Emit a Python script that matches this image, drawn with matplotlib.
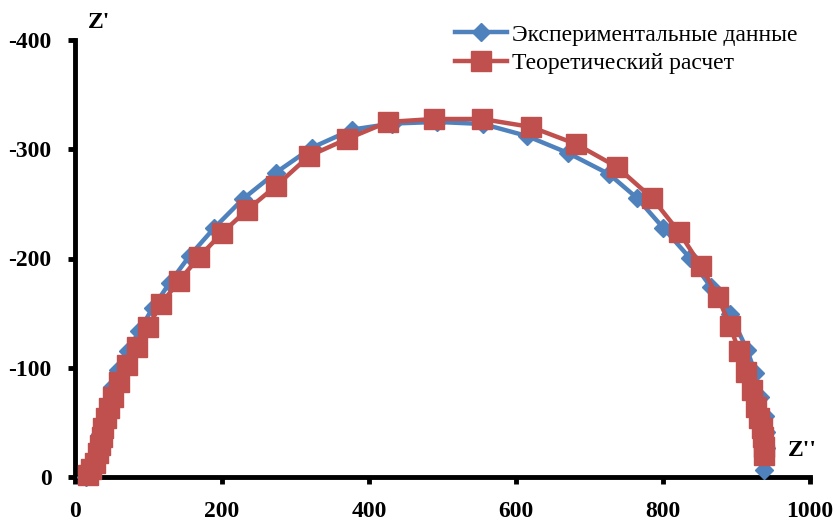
import numpy as np
import matplotlib
matplotlib.use("Agg")
import matplotlib.pyplot as plt

plt.rcParams['font.family'] = ['Liberation Serif', 'DejaVu Serif']
plt.rcParams['axes.unicode_minus'] = False

# experimental data (Z'' , Z')
exp_x = [14.5, 18.5, 23.0, 28.0, 31.5, 34.5, 37.5, 40.5, 44.5, 50.5, 58.5, 72.0, 87.5,
         106.0, 129.0, 156.0, 189.5, 228.5, 273.0, 322.4, 376.9, 431.3, 492.5, 555.1,
         615.0, 670.7, 726.5, 764.6, 800.5, 836.5, 865.0, 891.5, 914.5, 925.5, 932.5,
         938.5, 940.5, 940.0, 939.0, 937.4]
exp_y = [0, -5.5, -12.5, -21.0, -30.0, -39.0, -48.0, -57.5, -67.5, -82.0, -98.0, -115.0,
         -134.0, -155.0, -178.0, -202.5, -228.0, -254.5, -278.5, -301.5, -318.0, -323.5,
         -325.0, -323.1, -312.1, -296.6, -277.3, -255.4, -227.9, -200.5, -173.9, -149.2,
         -116.2, -95.2, -73.2, -55.8, -41.2, -26.5, -15.6, -6.4]

# theoretical calculation
th_x = [17.7, 21.8, 27.2, 31.3, 34.0, 36.7, 38.1, 42.2, 46.3, 51.7, 59.9, 70.7, 84.4,
        99.3, 117.0, 141.5, 168.7, 200.0, 234.0, 273.5, 318.4, 370.1, 425.9, 488.4,
        553.7, 620.4, 681.6, 737.4, 785.0, 821.8, 851.7, 874.8, 891.2, 903.4, 912.9,
        921.1, 926.5, 930.6, 934.7, 936.1, 937.4, 937.4]
th_y = [-1.8, -7.3, -12.8, -22.0, -29.3, -36.6, -44.9, -54.0, -63.2, -73.2, -87.0, -102.5,
        -119.0, -137.3, -158.4, -179.4, -201.4, -223.3, -244.4, -266.4, -293.8, -309.4,
        -325.0, -327.7, -327.7, -320.4, -304.8, -283.8, -255.4, -224.3, -193.1, -164.8,
        -138.2, -115.3, -96.1, -79.6, -64.1, -54.0, -44.9, -36.6, -27.5, -20.1]

x_ticks = [0, 200, 400, 600, 800, 1000]
y_ticks = [0, -100, -200, -300, -400]

blue = "#4F81BD"
red = "#C0504D"

fig = plt.figure(figsize=(8.33, 5.24), dpi=100)
ax = fig.add_axes([75 / 833, 47 / 524, 735 / 833, 437 / 524])

ax.plot(exp_x, exp_y, color=blue, lw=3.2, marker='D', ms=9, mec=blue, mfc=blue,
        label="Экспериментальные данные", clip_on=False, zorder=3)
ax.plot(th_x, th_y, color=red, lw=3.2, marker='s', ms=14, mec=red, mfc=red,
        label="Теоретический расчет", clip_on=False, zorder=4)

ax.set_xlim(0, 1000)
ax.set_ylim(0, -400)
ax.set_xticks(x_ticks)
ax.set_yticks(y_ticks)

for s in ['top', 'right']:
    ax.spines[s].set_visible(False)
for s in ['left', 'bottom']:
    ax.spines[s].set_linewidth(3.5)

ax.tick_params(direction='out', length=5, width=3.5, labelsize=17, pad=12)
for lab in ax.get_xticklabels() + ax.get_yticklabels():
    lab.set_fontweight('bold')

fig.text(99 / 833, 1 - 23 / 524, "Z'", fontsize=17, fontweight='bold', ha='center', va='center')
fig.text(802 / 833, 1 - 450 / 524, "Z''", fontsize=17, fontweight='bold', ha='center', va='center')

ax.legend(loc='upper left', bbox_to_anchor=(455 / 833, 1 - 24 / 524), bbox_transform=fig.transFigure,
          frameon=False, fontsize=17, handlelength=2.2, handletextpad=0.2, borderpad=0,
          borderaxespad=0, labelspacing=0.3)

fig.savefig("out.png", dpi=100)
